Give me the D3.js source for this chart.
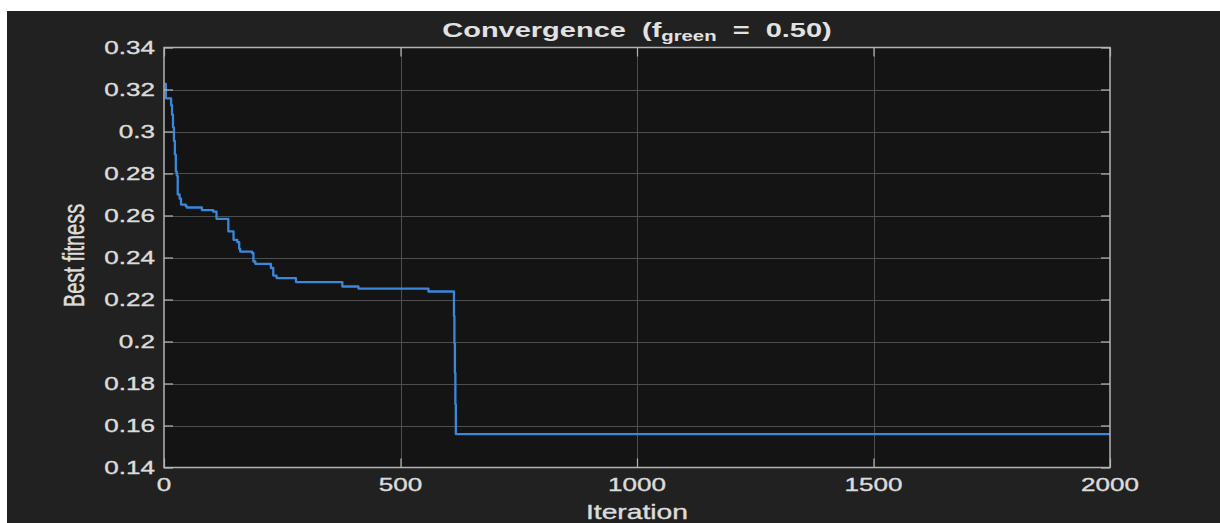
<!DOCTYPE html>
<html>
<head>
<meta charset="utf-8">
<script src="https://cdn.jsdelivr.net/npm/d3@7"></script>
<style>
  html, body { margin: 0; padding: 0; background: #ffffff; }
  svg { display: block; }
</style>
</head>
<body>
<svg id="chart" width="1220" height="523"></svg>
<script>
// Best-fitness history: iteration where the value changes, and the new best value
const iterations = [1, 4, 15, 17, 19, 21, 23, 25, 27, 29, 33, 36, 46, 48, 80, 101, 104, 111,
  136, 147, 155, 159, 161, 186, 189, 193, 217, 226, 231, 238, 279, 377, 411, 559,
  612, 613, 614, 615, 616, 617, 2000];
const bestFitness = [0.3227, 0.3158, 0.3125, 0.3080, 0.3020, 0.2955, 0.2890, 0.2810, 0.2790, 0.2700,
  0.2680, 0.2652, 0.2645, 0.2638, 0.2626, 0.2626, 0.2618, 0.2584,
  0.2524, 0.2484, 0.2473, 0.2441, 0.2428, 0.2422, 0.2381, 0.2370, 0.2370, 0.2350, 0.2314, 0.2302,
  0.2283, 0.2262, 0.2252, 0.2238,
  0.2238, 0.2120, 0.1990, 0.1850, 0.1700, 0.1559, 0.1559];

const xTicks = [0, 500, 1000, 1500, 2000];
const yTicks = [0.14, 0.16, 0.18, 0.2, 0.22, 0.24, 0.26, 0.28, 0.3, 0.32, 0.34];
const xDomain = [0, 2000];
const yDomain = [0.14, 0.34];

const titleMain = "Convergence  (f";
const titleSub = "green";
const titleTail = "  =  0.50)";
const xLabel = "Iteration";
const yLabel = "Best fitness";

// text in this figure is rendered wide
const SX = 1.45;

const svg = d3.select("#chart");
const W = 1220, H = 523;
const plot = { left: 164, right: 1110, top: 47.5, bottom: 467.5 };

// figure background
svg.append("rect").attr("x", 0).attr("y", 0).attr("width", W).attr("height", H).attr("fill", "#ffffff");
svg.append("rect").attr("x", 7).attr("y", 11).attr("width", W - 7).attr("height", H - 11).attr("fill", "#212121");

const x = d3.scaleLinear().domain(xDomain).range([plot.left, plot.right]);
const y = d3.scaleLinear().domain(yDomain).range([plot.bottom, plot.top]);

// axes background
svg.append("rect")
  .attr("x", plot.left).attr("y", plot.top)
  .attr("width", plot.right - plot.left).attr("height", plot.bottom - plot.top)
  .attr("fill", "#141414");

// grid
const grid = svg.append("g").attr("stroke", "#4e4e4e").attr("stroke-width", 1);
grid.selectAll("line.gx").data(xTicks.slice(1, -1)).join("line")
  .attr("x1", d => Math.round(x(d)) + 0.5).attr("x2", d => Math.round(x(d)) + 0.5)
  .attr("y1", plot.top).attr("y2", plot.bottom);
grid.selectAll("line.gy").data(yTicks.slice(1, -1)).join("line")
  .attr("y1", d => Math.round(y(d)) + 0.5).attr("y2", d => Math.round(y(d)) + 0.5)
  .attr("x1", plot.left).attr("x2", plot.right);

// convergence curve
const pts = iterations.map((it, i) => [it, bestFitness[i]]);
const line = d3.line().x(d => x(d[0])).y(d => y(d[1])).curve(d3.curveStepAfter);
svg.append("path")
  .attr("d", line(pts))
  .attr("fill", "none")
  .attr("stroke", "#3b87d9")
  .attr("stroke-width", 2.3)
  .attr("stroke-linejoin", "round");

// axes with inward ticks on all four sides
const axisColor = "#b4b4b4";
const tickLen = 9;
function styleAxis(g) {
  g.select(".domain").remove();
  g.selectAll(".tick line").attr("stroke", axisColor).attr("stroke-width", 1.2);
  g.selectAll(".tick text").remove();
}
svg.append("g").attr("transform", `translate(0,${plot.bottom})`)
  .call(d3.axisBottom(x).tickValues(xTicks).tickSize(-tickLen)).call(styleAxis);
svg.append("g").attr("transform", `translate(0,${plot.top})`)
  .call(d3.axisTop(x).tickValues(xTicks).tickSize(-tickLen)).call(styleAxis);
svg.append("g").attr("transform", `translate(${plot.left},0)`)
  .call(d3.axisLeft(y).tickValues(yTicks).tickSize(-tickLen)).call(styleAxis);
svg.append("g").attr("transform", `translate(${plot.right},0)`)
  .call(d3.axisRight(y).tickValues(yTicks).tickSize(-tickLen)).call(styleAxis);

// axes box
svg.append("rect")
  .attr("x", plot.left).attr("y", plot.top)
  .attr("width", plot.right - plot.left).attr("height", plot.bottom - plot.top)
  .attr("fill", "none").attr("stroke", axisColor).attr("stroke-width", 1.5);

const font = "'Liberation Sans', Arial, Helvetica, sans-serif";
const textColor = "#dcdcdc";

function wideText(px, py, str, opts) {
  const g = svg.append("g").attr("transform", `translate(${px},${py}) scale(${SX},1)` + (opts.rotate ? ` rotate(${opts.rotate})` : ""));
  return g.append("text")
    .attr("x", 0).attr("y", 0)
    .attr("text-anchor", opts.anchor || "middle")
    .attr("font-family", font)
    .attr("font-size", opts.size)
    .attr("font-weight", opts.weight || "normal")
    .attr("fill", opts.fill || textColor)
    .attr("stroke", opts.fill || textColor)
    .attr("stroke-width", 0.35)
    .text(str);
}

// tick labels
xTicks.forEach(t => wideText(x(t), 491, String(t), { size: 18 }));
yTicks.forEach(t => wideText(plot.left - 9, y(t) + 6.5, d3.format("")(t), { size: 18, anchor: "end" }));

// axis labels
wideText(637, 519, xLabel, { size: 19.5 });
wideText(84, 255.5, yLabel, { size: 20, rotate: -90 });

// title with subscript
const tg = svg.append("g").attr("transform", `translate(637,37) scale(${SX},1)`);
const tt = tg.append("text")
  .attr("text-anchor", "middle")
  .attr("font-family", font)
  .attr("font-size", 20)
  .attr("font-weight", "bold")
  .attr("fill", "#e2e2e2")
  .attr("xml:space", "preserve")
  .style("white-space", "pre");
tt.append("tspan").text(titleMain);
tt.append("tspan").attr("font-size", 14).attr("dy", 4).text(titleSub);
tt.append("tspan").attr("dy", -4).text(titleTail);
</script>
</body>
</html>
